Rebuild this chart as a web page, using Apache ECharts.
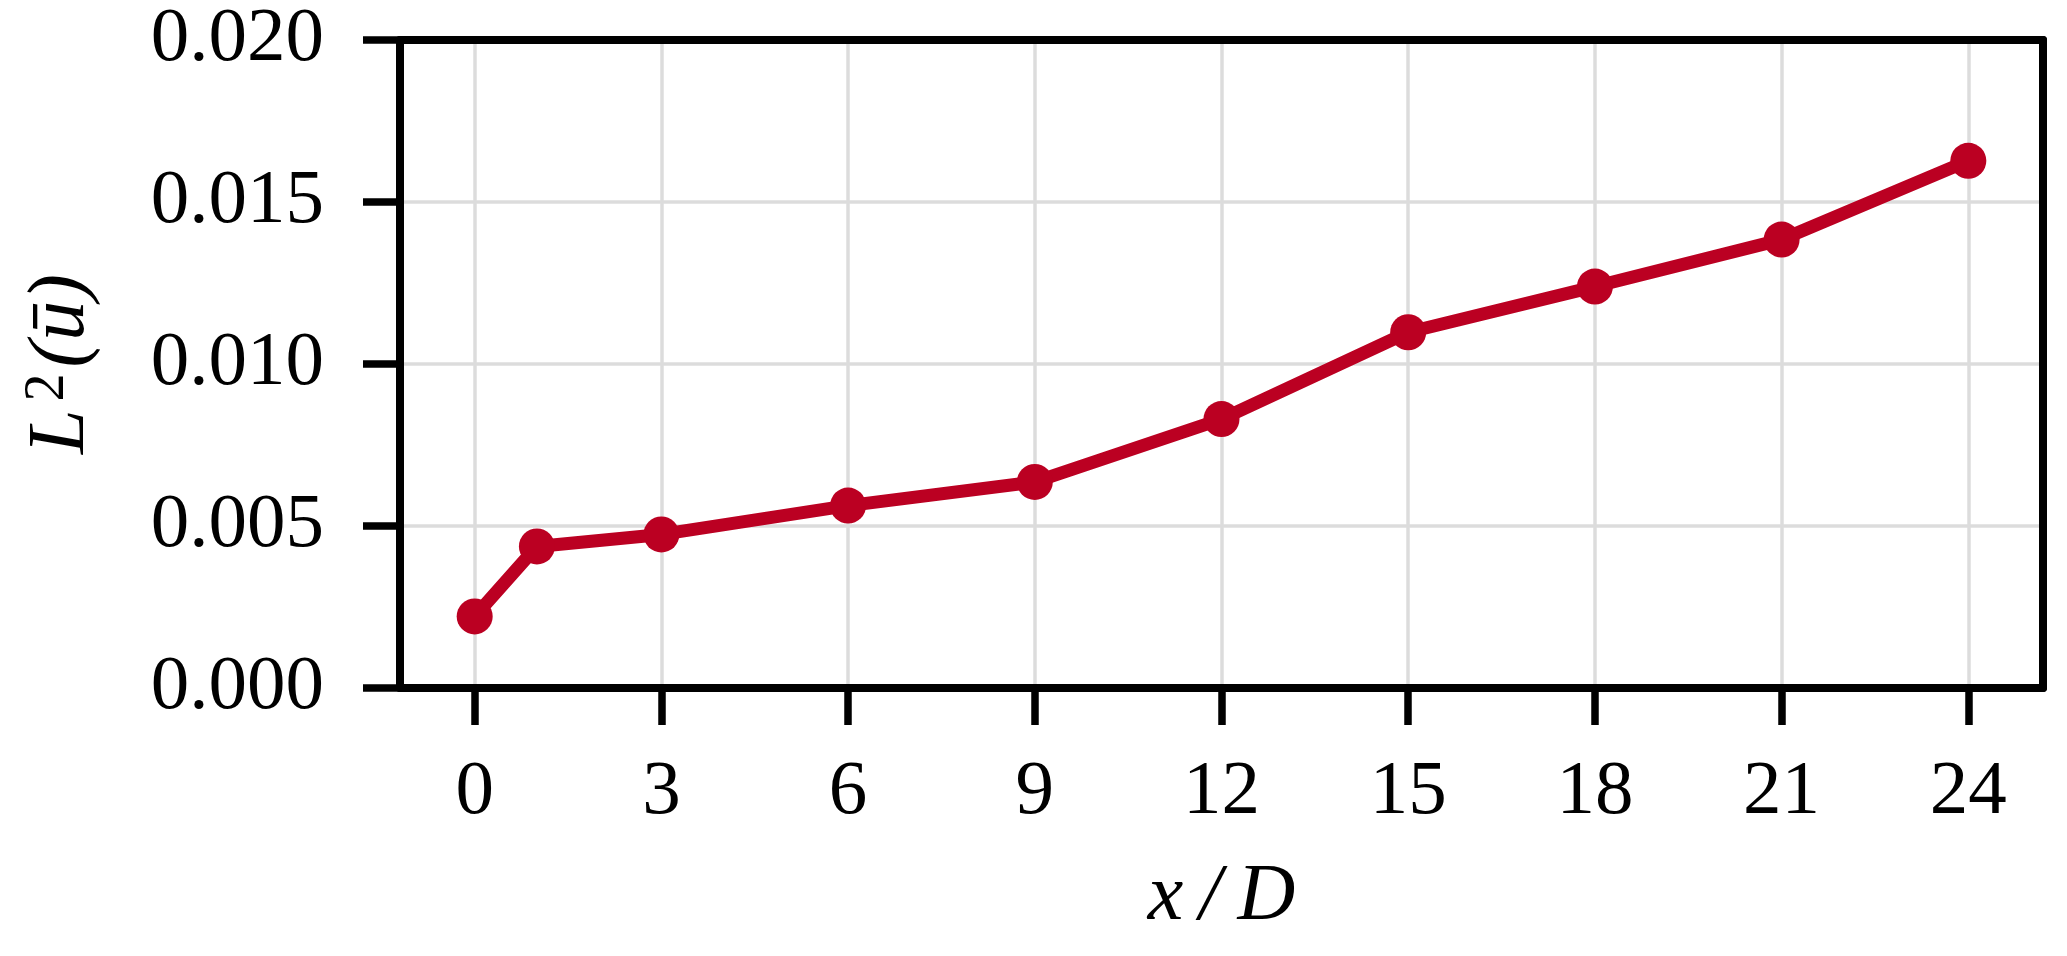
<!DOCTYPE html>
<html>
<head>
<meta charset="utf-8">
<title>L2 error vs x/D</title>
<script src="https://cdn.jsdelivr.net/npm/echarts@6/dist/echarts.min.js"></script>
<style>
  html, body { margin: 0; padding: 0; background: #fff; }
  #chart { width: 2067px; height: 956px; }
</style>
</head>
<body>
<div id="chart"></div>
<script>
// x/D stations and the L2 error of the mean velocity
const xPositions = [0, 1, 3, 6, 9, 12, 15, 18, 21, 24];
const l2Values = [0.00221, 0.00437, 0.00474, 0.00563, 0.00636, 0.0083, 0.01098, 0.01239, 0.01384, 0.01627];
const xTicks = [0, 3, 6, 9, 12, 15, 18, 21, 24];

const serif = "'Liberation Serif', 'DejaVu Serif', serif";
const red = "#bb0022";
const spine = { show: true, onZero: false, lineStyle: { color: "#000", width: 8 } };
const tick = { color: "#000", width: 7.5 };

const chart = echarts.init(document.getElementById("chart"));

chart.setOption({
  animation: false,
  backgroundColor: "#fff",
  grid: {
    left: 400,
    right: 24,
    top: 40,
    bottom: 268,
    outerBoundsMode: "none",
  },
  xAxis: [
    {
      type: "value",
      min: -1.2,
      max: 25.2,
      name: "x\u2009/\u2009D",
      nameLocation: "middle",
      nameGap: 170,
      nameTextStyle: {
        fontFamily: serif,
        fontStyle: "italic",
        fontSize: 80,
        color: "#000",
      },
      axisLine: spine,
      axisTick: {
        show: true,
        length: 37,
        customValues: xTicks,
        lineStyle: tick,
      },
      axisLabel: {
        customValues: xTicks,
        margin: 66,
        fontFamily: serif,
        fontSize: 77,
        color: "#000",
      },
      splitLine: { show: true, lineStyle: { color: "#dcdcdc", width: 3.5 } },
    },
    {
      // top spine
      type: "value",
      position: "top",
      min: -1.2,
      max: 25.2,
      axisLine: spine,
      axisTick: { show: false },
      axisLabel: { show: false },
      splitLine: { show: false },
    },
  ],
  yAxis: [
    {
      type: "value",
      min: 0,
      max: 0.02,
      interval: 0.005,
      name: "{i|L}{sup|2}{i|(ū)}",
      nameLocation: "middle",
      nameRotate: 90,
      nameGap: 296,
      nameTextStyle: {
        color: "#000",
        rich: {
          i: { fontFamily: serif, fontStyle: "italic", fontSize: 80, color: "#000" },
          sup: { fontFamily: serif, fontSize: 56, color: "#000", padding: [0, 6, 28, 8] },
        },
      },
      axisLine: spine,
      axisTick: { show: true, length: 37, lineStyle: tick },
      axisLabel: {
        margin: 76,
        fontFamily: serif,
        fontSize: 77,
        color: "#000",
        formatter: (v) => v.toFixed(3),
      },
      splitLine: { show: true, lineStyle: { color: "#dcdcdc", width: 3.5 } },
    },
    {
      // right spine
      type: "value",
      position: "right",
      min: 0,
      max: 0.02,
      axisLine: spine,
      axisTick: { show: false },
      axisLabel: { show: false },
      splitLine: { show: false },
    },
  ],
  series: [
    {
      type: "line",
      data: xPositions.map((x, i) => [x, l2Values[i]]),
      symbol: "circle",
      symbolSize: 36,
      showAllSymbol: true,
      lineStyle: { color: red, width: 13 },
      itemStyle: { color: red },
      z: 5,
    },
  ],
});
</script>
</body>
</html>
